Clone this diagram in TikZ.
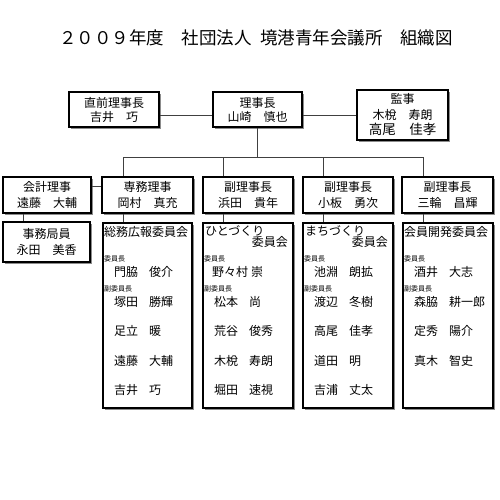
\documentclass[tikz,border=0pt]{standalone}
\usepackage{fontspec}
\setmainfont{Noto Sans CJK JP}
\usetikzlibrary{shadows}
\tikzset{
  box/.style={draw=black, line width=1.2pt, fill=white, inner sep=0pt, align=center,
    font=\fontsize{12}{14}\selectfont,
    drop shadow={shadow xshift=1.8pt, shadow yshift=-1.8pt, fill=black, opacity=0.45}},
  box2/.style={box, font=\fontsize{12}{16}\selectfont},
  conn/.style={draw=black!75, line width=0.9pt},
  nm/.style={anchor=west, inner sep=0pt, font=\fontsize{12}{14}\selectfont},
  nme/.style={anchor=east, inner sep=0pt, font=\fontsize{12}{14}\selectfont},
  lab/.style={anchor=west, inner sep=0pt, font=\fontsize{7}{8}\selectfont},
}
\newcommand\cmem[5]{%
  \node[nm] (#5s) at (#1+11,#2) {#3};
  \node[nm] (#5g) at (#1+46,#2) {#4};}
\begin{document}
\begin{tikzpicture}[x=1pt,y=-1pt]
\useasboundingbox (0,0) rectangle (500,500);
% title
\node[inner sep=0pt, font=\fontsize{17.5}{20}\selectfont] (title) at (256,38)
  {２００９年度　社団法人\hspace{0.5em}境港青年会議所　組織図};
% top row
\node[box, minimum width=90pt, minimum height=35pt] (zen) at (114,109.5) {直前理事長\\吉井　巧};
\node[box, minimum width=89pt, minimum height=35pt] (rij) at (257.5,109.5) {理事長\\山崎　慎也};
\node[box, minimum width=91pt, minimum height=50pt, font=\fontsize{12}{15.5}\selectfont] (kan) at (402.5,115)
  {監事\\木梲　寿朗\\{\fontsize{13.5}{15}\selectfont 高尾　佳孝}};
% second row
\node[box2, minimum width=88pt, minimum height=36pt] (kai) at (47,195) {会計理事\\遠藤　大輔};
\node[box2, minimum width=91pt, minimum height=36pt] (sen) at (147.5,195) {専務理事\\岡村　真充};
\node[box2, minimum width=90pt, minimum height=36pt] (fk1) at (248,195) {副理事長\\浜田　貴年};
\node[box2, minimum width=90pt, minimum height=36pt] (fk2) at (348,195) {副理事長\\小板　勇次};
\node[box2, minimum width=91pt, minimum height=36pt] (fk3) at (447.5,195) {副理事長\\三輪　昌輝};
% third row
\node[box2, minimum width=87pt, minimum height=40pt] (jim) at (46.5,242) {事務局員\\永田　美香};
\node[box, minimum width=89pt, minimum height=185pt] (c1) at (147.5,315.5) {};
\node[box, minimum width=90pt, minimum height=185pt] (c2) at (248,315.5) {};
\node[box, minimum width=90pt, minimum height=185pt] (c3) at (348,315.5) {};
\node[box, minimum width=90pt, minimum height=185pt] (c4) at (448,315.5) {};
% connectors
\coordinate (d1) at (123,157);
\coordinate (d2) at (223,157);
\coordinate (d3) at (323,157);
\coordinate (d4) at (423,157);
\coordinate (ks) at (0,186);
\coordinate (kj) at (23,0);
\draw[conn] (zen.east |- kan.west) -- (rij.west |- kan.west);
\draw[conn] (rij.east |- kan.west) -- (kan.west);
\draw[conn] (rij.south) -- (rij.south |- d1);
\draw[conn] (d1) -- (d4);
\draw[conn] (d1) -- (d1 |- sen.north);
\draw[conn] (d2) -- (d2 |- fk1.north);
\draw[conn] (d3) -- (d3 |- fk2.north);
\draw[conn] (d4) -- (d4 |- fk3.north);
\draw[conn] (kai.east |- ks) -- (sen.west |- ks);
\draw[conn] (kj |- kai.south) -- (kj |- jim.north);
\draw[conn] (d1 |- sen.south) -- (d1 |- c1.north);
\draw[conn] (d2 |- fk1.south) -- (d2 |- c2.north);
\draw[conn] (d3 |- fk2.south) -- (d3 |- c3.north);
\draw[conn] (d4 |- fk3.south) -- (d4 |- c4.north);
% committee 1
\node[nm] (c1t) at (104,232) {総務広報委員会};
\node[lab] (c1a) at (104,259) {委員長};
\node[lab] (c1b) at (104,289) {副委員長};
\cmem{103}{272}{門脇}{俊介}{c1m1}
\cmem{103}{302}{塚田}{勝輝}{c1m2}
\cmem{103}{331}{足立}{暖}{c1m3}
\cmem{103}{361}{遠藤}{大輔}{c1m4}
\cmem{103}{390}{吉井}{巧}{c1m5}
% committee 2
\node[nm] (c2t) at (205,231) {ひとづくり};
\node[nme] (c2u) at (288,242) {委員会};
\node[lab] (c2a) at (204,259) {委員長};
\node[lab] (c2b) at (204,289) {副委員長};
\node[nm] (c2m1s) at (212,272) {野々村};
\node[nm] (c2m1g) at (251,272) {崇};
\cmem{203}{302}{松本}{尚}{c2m2}
\cmem{203}{331}{荒谷}{俊秀}{c2m3}
\cmem{203}{361}{木梲}{寿朗}{c2m4}
\cmem{203}{390}{堀田}{速視}{c2m5}
% committee 3
\node[nm] (c3t) at (305,231) {まちづくり};
\node[nme] (c3u) at (388,242) {委員会};
\node[lab] (c3a) at (304,259) {委員長};
\node[lab] (c3b) at (304,289) {副委員長};
\cmem{303}{272}{池淵}{朗拡}{c3m1}
\cmem{303}{302}{渡辺}{冬樹}{c3m2}
\cmem{303}{331}{高尾}{佳孝}{c3m3}
\cmem{303}{361}{道田}{明}{c3m4}
\cmem{303}{390}{吉浦}{丈太}{c3m5}
% committee 4
\node[nm] (c4t) at (404,232) {会員開発委員会};
\node[lab] (c4a) at (404,259) {委員長};
\node[lab] (c4b) at (404,289) {副委員長};
\cmem{403}{272}{酒井}{大志}{c4m1}
\cmem{403}{302}{森脇}{耕一郎}{c4m2}
\cmem{403}{331}{定秀}{陽介}{c4m3}
\cmem{403}{361}{真木}{智史}{c4m4}
\end{tikzpicture}
\end{document}
